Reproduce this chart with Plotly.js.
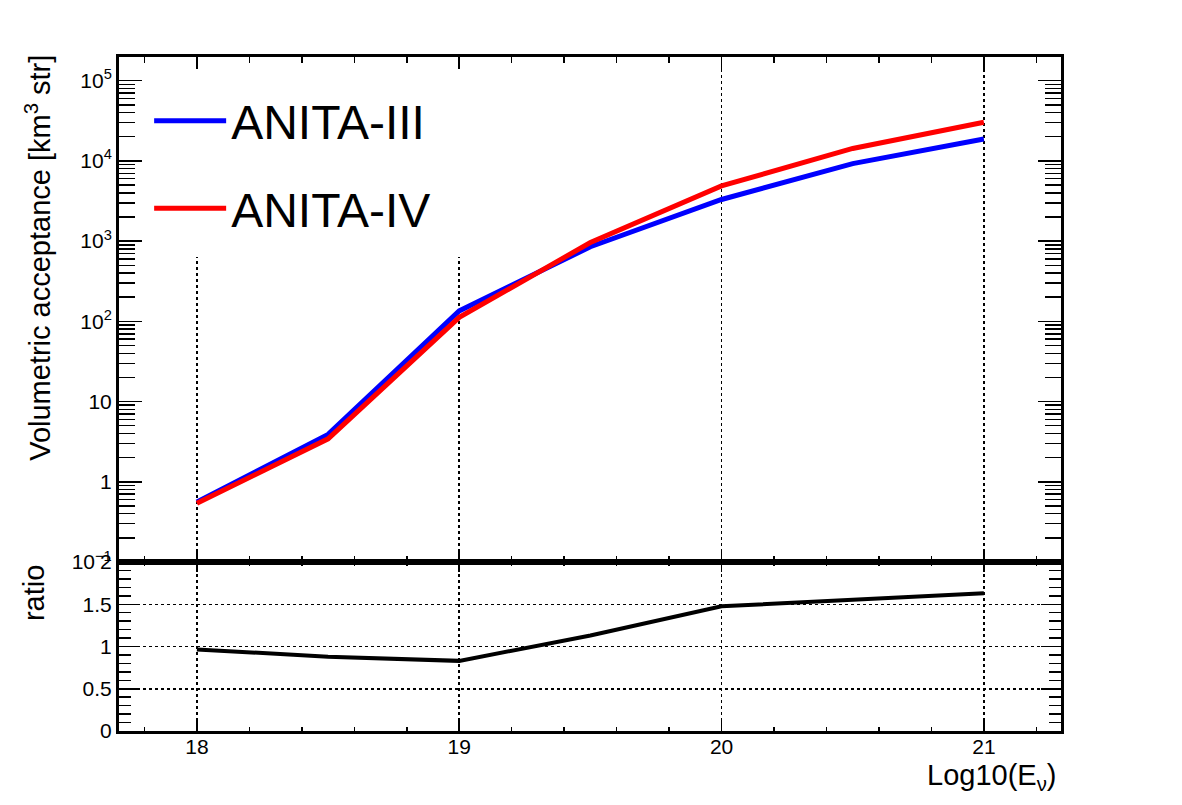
<!DOCTYPE html>
<html>
<head>
<meta charset="utf-8">
<script src="https://cdn.plot.ly/plotly-3.0.1.min.js"></script>
<style>html,body{margin:0;padding:0;background:#fff;}#plot{width:1182px;height:805px;}</style>
</head>
<body>
<div id="plot"></div>
<script>
// ---- data ----
const energies = [18, 18.5, 19, 19.5, 20, 20.5, 21];           // Log10(E_nu)
const anita3   = [0.56, 3.9, 135, 850, 3300, 9250, 18700];     // km^3 str
const anita4   = [0.54, 3.43, 112, 960, 4870, 14300, 30300];   // km^3 str
const ratio    = [0.965, 0.88, 0.83, 1.13, 1.475, 1.55, 1.63]; // ANITA-IV / ANITA-III
const seriesNames = ['ANITA-III', 'ANITA-IV'];
const yTickVals  = [0.1, 1, 10, 100, 1e3, 1e4, 1e5];
const yTickText  = ['10<sup>\u22121</sup>', '1', '10', '10<sup>2</sup>', '10<sup>3</sup>', '10<sup>4</sup>', '10<sup>5</sup>'];
const xTitle = 'Log10(E<sub>\u03bd</sub>)';
const yTitle = 'Volumetric acceptance [km<sup>3</sup> str]';
const rTitle = 'ratio';

// minor log ticks 2..9 per decade
const yMinor = [];
for (let d = -1; d <= 5; d++) for (let k = 2; k <= 9; k++) yMinor.push(k * Math.pow(10, d));

const FONT = 'Liberation Sans, Arial, Helvetica, sans-serif';

const traces = [
  {x: energies, y: anita3, name: seriesNames[0], type: 'scatter', mode: 'lines',
   line: {color: '#0000ff', width: 5}, xaxis: 'x', yaxis: 'y', legend: 'legend'},
  {x: energies, y: anita4, name: seriesNames[1], type: 'scatter', mode: 'lines',
   line: {color: '#ff0000', width: 5}, xaxis: 'x', yaxis: 'y', legend: 'legend2'},
  {x: energies, y: ratio, name: 'ratio', type: 'scatter', mode: 'lines',
   line: {color: '#000000', width: 4}, xaxis: 'x2', yaxis: 'y2', showlegend: false}
];

const xCommon = {
  range: [17.703, 21.294], showline: true, linecolor: 'black', linewidth: 3, mirror: 'allticks',
  ticks: 'inside', tickcolor: 'black', tickwidth: 1.5,
  tick0: 18, dtick: 1,
  showgrid: true, gridcolor: 'black', griddash: 'dot', gridwidth: 1.5,
  zeroline: false,
  tickfont: {family: FONT, size: 21, color: 'black'}
};

const rDomain = 169 / 674;

const layout = {
  width: 1182, height: 805,
  margin: {l: 119, r: 121, t: 57, b: 74, pad: 0},
  paper_bgcolor: 'white', plot_bgcolor: 'white',
  font: {family: FONT, color: 'black', size: 21},
  xaxis: Object.assign({}, xCommon, {
    anchor: 'y', domain: [0, 1], showticklabels: false, ticklen: 12,
    minor: {dtick: 0.2, tick0: 18, ticks: 'inside', ticklen: 6, tickcolor: 'black', tickwidth: 1.5, showgrid: false}
  }),
  xaxis2: Object.assign({}, xCommon, {
    anchor: 'y2', domain: [0, 1], matches: 'x', showticklabels: true, ticklen: 10,
    ticklabelstandoff: -5,
    minor: {dtick: 0.2, tick0: 18, ticks: 'inside', ticklen: 4, tickcolor: 'black', tickwidth: 1.5, showgrid: false}
  }),
  yaxis: {
    type: 'log', range: [-1, 5.295], domain: [rDomain, 1], anchor: 'x',
    showline: true, linecolor: 'black', linewidth: 3, mirror: 'allticks',
    tickmode: 'array', tickvals: yTickVals, ticktext: yTickText,
    ticks: 'inside', ticklen: 23, tickcolor: 'black', tickwidth: 1.5,
    minor: {tickmode: 'array', tickvals: yMinor, ticks: 'inside', ticklen: 16, tickcolor: 'black', tickwidth: 1.5, showgrid: false},
    showgrid: false, zeroline: false,
    tickfont: {family: FONT, size: 21, color: 'black'}
  },
  yaxis2: {
    range: [0, 2], domain: [0, rDomain], anchor: 'x2',
    showline: true, linecolor: 'black', linewidth: 3, mirror: 'allticks',
    tick0: 0, dtick: 0.5,
    ticks: 'inside', ticklen: 20, tickcolor: 'black', tickwidth: 1.5,
    minor: {dtick: 0.1, tick0: 0, ticks: 'inside', ticklen: 12, tickcolor: 'black', tickwidth: 1.5, showgrid: false},
    showgrid: true, gridcolor: 'black', griddash: 'dot', gridwidth: 1.5, zeroline: false,
    tickfont: {family: FONT, size: 21, color: 'black'}
  },
  legend: {x: 0.032, xanchor: 'left', y: 0.905, yanchor: 'middle', bgcolor: 'rgba(0,0,0,0)',
           font: {family: FONT, size: 48, color: 'black'}, itemwidth: 72, borderwidth: 0},
  legend2: {x: 0.032, xanchor: 'left', y: 0.775, yanchor: 'middle', bgcolor: 'rgba(0,0,0,0)',
           font: {family: FONT, size: 48, color: 'black'}, itemwidth: 72, borderwidth: 0},
  shapes: [
    {type: 'rect', xref: 'x domain', yref: 'y domain', x0: 0.0244, x1: 0.383, y0: 0.604, y1: 0.976,
     fillcolor: 'white', line: {width: 0}, layer: 'above'}
  ],
  annotations: [
    {text: yTitle, xref: 'paper', yref: 'paper', x: -0.086, y: 0.702, textangle: -90,
     showarrow: false, xanchor: 'center', yanchor: 'middle', font: {family: FONT, size: 29, color: 'black'}},
    {text: rTitle, xref: 'paper', yref: 'paper', x: -0.09, y: 0.205, textangle: -90,
     showarrow: false, xanchor: 'center', yanchor: 'middle', font: {family: FONT, size: 29, color: 'black'}},
    {text: xTitle, xref: 'paper', yref: 'paper', x: 0.997, y: -0.038,
     showarrow: false, xanchor: 'right', yanchor: 'top', font: {family: FONT, size: 29, color: 'black'}}
  ]
};

Plotly.newPlot('plot', traces, layout, {displayModeBar: false, staticPlot: true});
</script>
</body>
</html>
